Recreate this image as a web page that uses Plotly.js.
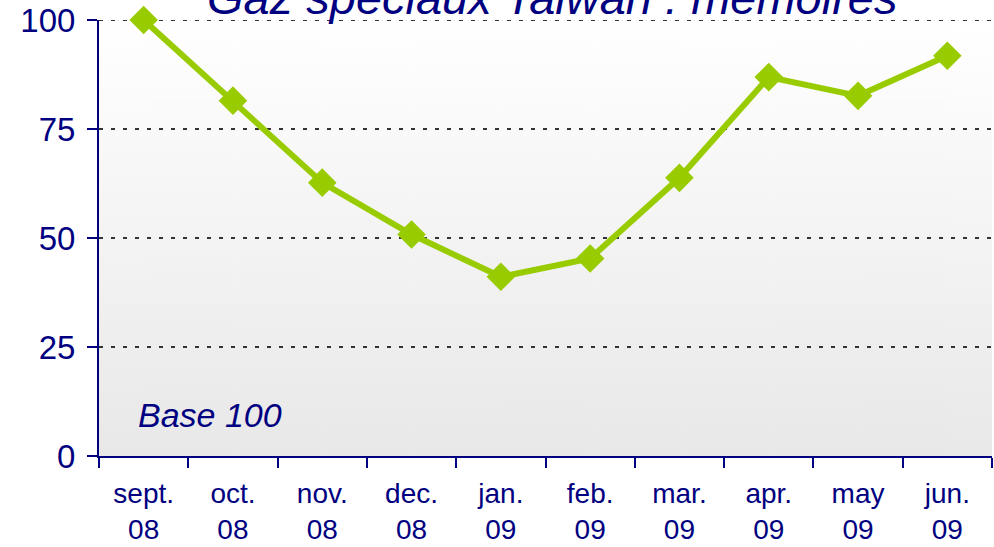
<!DOCTYPE html>
<html>
<head>
<meta charset="utf-8">
<script src="https://cdn.plot.ly/plotly-3.0.1.min.js"></script>
<style>html,body{margin:0;padding:0;background:#fff;}#chart{width:994px;height:547px;}</style>
</head>
<body>
<div id="chart"></div>
<script>
const months = ["sept.<br>08","oct.<br>08","nov.<br>08","dec.<br>08","jan.<br>09","feb.<br>09","mar.<br>09","apr.<br>09","may<br>09","jun.<br>09"];
const values = [100, 81.5, 62.7, 50.8, 41.1, 45.3, 63.8, 86.9, 82.6, 91.8];
const yTicks = [0, 25, 50, 75, 100];
const titleText = "Gaz spéciaux Taiwan : mémoires";
const noteText = "Base 100";

const NAVY = "#000080";
const GREEN = "#99cc00";
const FONT = "Liberation Sans, Arial, sans-serif";

// vertical gradient for plot background
const cv = document.createElement("canvas");
cv.width = 10; cv.height = 436;
const ctx = cv.getContext("2d");
const g = ctx.createLinearGradient(0, 0, 0, 436);
g.addColorStop(0, "#ffffff");
g.addColorStop(1, "#e8e8e8");
ctx.fillStyle = g;
ctx.fillRect(0, 0, 10, 436);
const bg = cv.toDataURL();

const trace = {
  x: months,
  y: values,
  type: "scatter",
  mode: "lines+markers",
  line: {color: GREEN, width: 6},
  marker: {symbol: "diamond", size: 22, color: GREEN},
  cliponaxis: false,
  hoverinfo: "skip"
};

const yMax = Math.max(...yTicks);

const layout = {
  width: 994, height: 547,
  margin: {l: 99, r: 2, t: 20, b: 91},
  paper_bgcolor: "#ffffff",
  plot_bgcolor: "rgba(0,0,0,0)",
  showlegend: false,
  font: {family: FONT, color: NAVY},
  images: [{source: bg, xref: "paper", yref: "paper", x: 0, y: 1, sizex: 1, sizey: 1,
            sizing: "stretch", xanchor: "left", yanchor: "top", layer: "below"}],
  shapes: [
    {type: "line", xref: "paper", yref: "y", x0: 0, x1: 1, y0: yMax, y1: yMax, layer: "below",
     line: {color: "#333333", width: 2, dash: "4px,8px"}}
  ],
  xaxis: {
    type: "category",
    range: [-0.5, 9.5],
    tickson: "boundaries",
    ticks: "outside", ticklen: 10, tickwidth: 2, tickcolor: NAVY,
    showline: true, linecolor: NAVY, linewidth: 2,
    showgrid: false, zeroline: false,
    tickfont: {family: FONT, size: 28, color: NAVY},
    ticklabelstandoff: 11,
    fixedrange: true
  },
  yaxis: {
    range: [0, 100],
    tickvals: yTicks,
    ticktext: yTicks.map(String),
    ticks: "outside", ticklen: 10, tickwidth: 2, tickcolor: NAVY,
    showline: true, linecolor: NAVY, linewidth: 2,
    showgrid: true, gridcolor: "#333333", gridwidth: 2, griddash: "4px,8px",
    zeroline: false,
    tickfont: {family: FONT, size: 33, color: NAVY},
    ticklabelstandoff: 5,
    fixedrange: true
  },
  annotations: [
    {text: "<i>" + titleText + "</i>", xref: "paper", yref: "paper", x: 0.508, y: 1.0516,
     xanchor: "center", yanchor: "middle", showarrow: false,
     font: {family: FONT, size: 47, color: NAVY}},
    {text: "<i>" + noteText + "</i>", xref: "paper", yref: "paper", x: 0.041, y: 0.094,
     xanchor: "left", yanchor: "middle", showarrow: false,
     font: {family: FONT, size: 34, color: NAVY}}
  ]
};

Plotly.newPlot("chart", [trace], layout, {displayModeBar: false, staticPlot: true});
</script>
</body>
</html>
